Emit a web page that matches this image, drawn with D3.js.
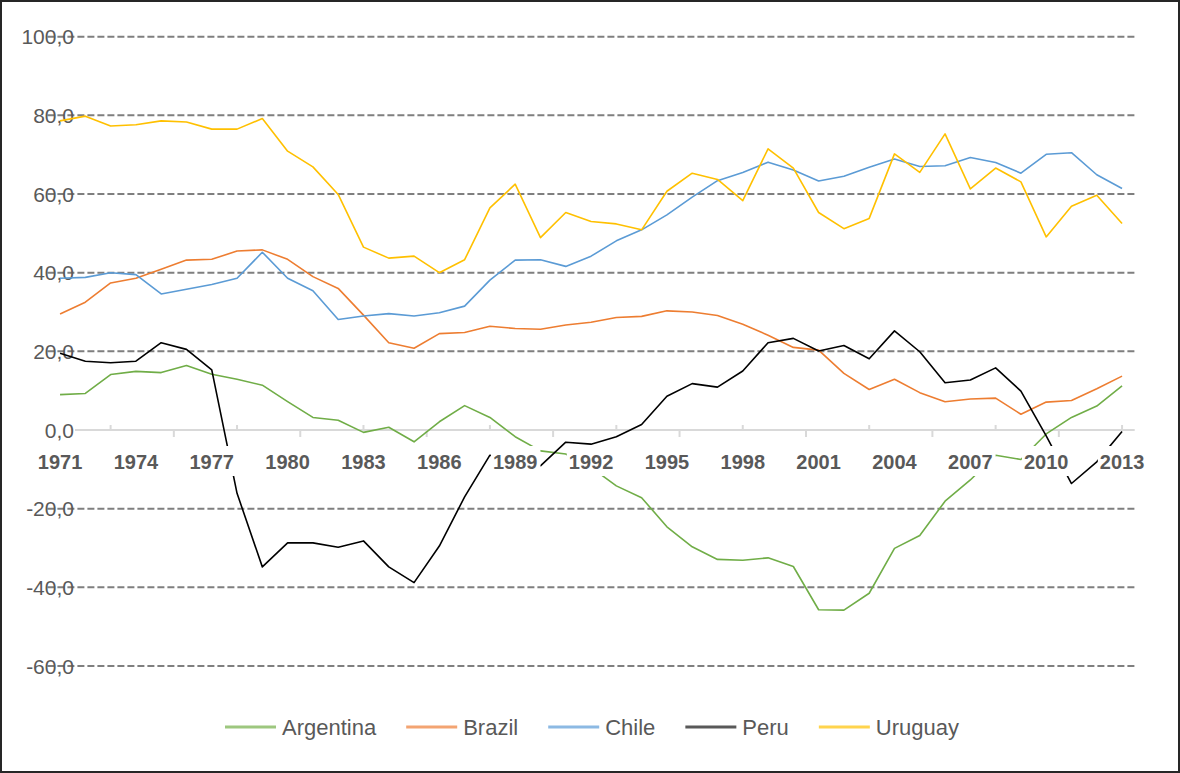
<!DOCTYPE html>
<html>
<head>
<meta charset="utf-8">
<script src="https://cdn.jsdelivr.net/npm/d3@7"></script>
<style>
  body { margin: 0; background: #fff; }
  text { font-family: "Liberation Sans", Arial, sans-serif; fill: #595959; }
</style>
</head>
<body>
<script>
var years = [1971, 1972, 1973, 1974, 1975, 1976, 1977, 1978, 1979, 1980, 1981, 1982, 1983, 1984, 1985,
             1986, 1987, 1988, 1989, 1990, 1991, 1992, 1993, 1994, 1995, 1996, 1997, 1998, 1999, 2000,
             2001, 2002, 2003, 2004, 2005, 2006, 2007, 2008, 2009, 2010, 2011, 2012, 2013];

var argentina = [9.0, 9.3, 14.1, 14.9, 14.6, 16.4, 14.2, 12.9, 11.4, 7.2, 3.2, 2.5, -0.6, 0.7, -3.0,
                 2.1, 6.2, 3.2, -1.7, -5.3, -6.1, -9.5, -14.2, -17.2, -24.6, -29.7, -32.9, -33.1, -32.5, -34.7,
                 -45.7, -45.8, -41.5, -30.1, -26.8, -18.1, -12.7, -6.4, -7.5, -1.0, 3.2, 6.1, 11.2];
var brazil = [29.5, 32.5, 37.4, 38.6, 40.9, 43.2, 43.4, 45.5, 45.8, 43.4, 39.0, 36.0, 29.2, 22.2, 20.8,
              24.5, 24.8, 26.4, 25.8, 25.6, 26.7, 27.4, 28.6, 28.9, 30.3, 30.0, 29.1, 26.9, 24.1, 21.0,
              20.3, 14.4, 10.3, 12.9, 9.5, 7.2, 7.9, 8.1, 4.0, 7.1, 7.5, 10.5, 13.7];
var chile = [38.6, 38.8, 40.0, 39.5, 34.6, 35.8, 37.0, 38.6, 45.2, 38.6, 35.4, 28.1, 29.0, 29.6, 29.0,
             29.8, 31.5, 38.1, 43.2, 43.3, 41.6, 44.2, 48.1, 50.9, 54.7, 59.2, 63.4, 65.5, 68.1, 66.1,
             63.3, 64.5, 66.8, 68.9, 67.0, 67.2, 69.3, 68.0, 65.3, 70.1, 70.5, 64.9, 61.4];
var peru = [19.5, 17.5, 17.1, 17.5, 22.2, 20.5, 15.3, -16.1, -34.8, -28.7, -28.7, -29.8, -28.2, -34.8, -38.8,
            -29.5, -17.0, -6.4, -8.0, -9.1, -3.1, -3.6, -1.7, 1.4, 8.6, 11.8, 10.9, 15.0, 22.2, 23.3,
            20.1, 21.5, 18.1, 25.2, 19.9, 12.0, 12.7, 15.8, 9.9, -1.5, -13.6, -8.1, -0.4];
var uruguay = [78.6, 79.8, 77.3, 77.6, 78.6, 78.3, 76.5, 76.5, 79.2, 70.9, 66.9, 59.9, 46.5, 43.7, 44.2,
               40.0, 43.3, 56.5, 62.5, 48.9, 55.3, 53.0, 52.4, 50.9, 60.7, 65.3, 63.7, 58.3, 71.5, 66.6,
               55.3, 51.2, 53.8, 70.2, 65.5, 75.3, 61.3, 66.6, 63.1, 49.1, 56.9, 59.7, 52.5];

var seriesNames = ['Argentina', 'Brazil', 'Chile', 'Peru', 'Uruguay'];
var seriesValues = [argentina, brazil, chile, peru, uruguay];
var seriesColors = ['#70ad47', '#ed7d31', '#5b9bd5', '#000000', '#ffc000'];
var legendColors = ['#9dc77f', '#f3a472', '#8cb9e3', '#595959', '#ffd44d'];

var yTicks = [-60, -40, -20, 0, 20, 40, 60, 80, 100];
var xLabelYears = [1971, 1974, 1977, 1980, 1983, 1986, 1989, 1992, 1995, 1998, 2001, 2004, 2007, 2010, 2013];

var width = 1180, height = 773;

var svg = d3.select('body').append('svg')
            .attr('width', width)
            .attr('height', height);

svg.append('rect')
   .attr('x', 1).attr('y', 1)
   .attr('width', width - 2).attr('height', height - 2)
   .attr('fill', '#fff')
   .attr('stroke', '#262626')
   .attr('stroke-width', 2);

var x = d3.scaleBand().domain(years).range([47.4, 1134.7]);
var cx = function(yr) { return x(yr) + x.bandwidth() / 2; };
var y = d3.scaleLinear().domain([-60, 100]).range([666, 36.7]);

var locale = d3.formatLocale({ decimal: ',', thousands: '.', grouping: [3], currency: ['', ''], minus: '-' });
var fmt = locale.format('.1f');

// gridlines
svg.append('g').selectAll('line')
   .data(yTicks.filter(function(d) { return d !== 0; }))
   .enter().append('line')
   .attr('x1', 47.4).attr('x2', 1134.7)
   .attr('y1', function(d) { return y(d); })
   .attr('y2', function(d) { return y(d); })
   .attr('stroke', '#7f7f7f')
   .attr('stroke-width', 2)
   .attr('stroke-dasharray', '7,3');

// zero axis with its odd tick marks
svg.append('line')
   .attr('x1', 75).attr('x2', 1134.7)
   .attr('y1', y(0)).attr('y2', y(0))
   .attr('stroke', '#d9d9d9')
   .attr('stroke-width', 2);

var upTicks = years.filter(function(d, i) { return i % 5 === 2; });
var downTicks = years.filter(function(d, i) { return i > 0 && i % 5 === 0; });

svg.append('g').selectAll('line').data(upTicks).enter().append('line')
   .attr('x1', cx).attr('x2', cx)
   .attr('y1', y(0) - 5).attr('y2', y(0))
   .attr('stroke', '#d9d9d9').attr('stroke-width', 2);

svg.append('g').selectAll('line').data(downTicks).enter().append('line')
   .attr('x1', function(d) { return x(d); }).attr('x2', function(d) { return x(d); })
   .attr('y1', y(0)).attr('y2', y(0) + 7)
   .attr('stroke', '#d9d9d9').attr('stroke-width', 2);

// y labels
svg.append('g').selectAll('text').data(yTicks).enter().append('text')
   .attr('x', 74)
   .attr('y', function(d) { return y(d) + 7.5; })
   .attr('text-anchor', 'end')
   .style('font-size', '21px')
   .text(function(d) { return fmt(d); });

// series lines
var line = d3.line()
             .x(function(d, i) { return cx(years[i]); })
             .y(function(d) { return y(d); });

svg.append('g').selectAll('path').data(seriesValues).enter().append('path')
   .attr('d', line)
   .attr('fill', 'none')
   .attr('stroke', function(d, i) { return seriesColors[i]; })
   .attr('stroke-width', 1.6)
   .attr('stroke-linejoin', 'round');

// x labels on white boxes (they hide the lines behind them)
var xLab = svg.append('g').selectAll('g').data(xLabelYears).enter().append('g');
var xText = xLab.append('text')
   .attr('x', cx)
   .attr('y', 469)
   .attr('text-anchor', 'middle')
   .style('font-size', '20px')
   .style('font-weight', 'bold')
   .text(function(d) { return d; });

xLab.insert('rect', 'text')
   .attr('x', function(d, i) { return xText.nodes()[i].getBBox().x - 2; })
   .attr('width', function(d, i) { return xText.nodes()[i].getBBox().width + 5; })
   .attr('y', 446)
   .attr('height', 30)
   .attr('fill', '#fff');

// legend
var legend = svg.append('g');
var lineLen = 51, textGap = 6, itemGap = 30;
var items = legend.selectAll('g').data(seriesNames).enter().append('g');
items.append('line')
     .attr('x1', 0).attr('x2', lineLen)
     .attr('y1', 727).attr('y2', 727)
     .attr('stroke', function(d, i) { return legendColors[i]; })
     .attr('stroke-width', 3);
items.append('text')
     .attr('x', lineLen + textGap)
     .attr('y', 735)
     .style('font-size', '22px')
     .text(function(d) { return d; });

var offsets = [];
var total = 0;
items.each(function() {
  var w = d3.select(this).select('text').node().getComputedTextLength();
  offsets.push(total);
  total += lineLen + textGap + w + itemGap;
});
total -= itemGap;
var startX = 592 - total / 2;
items.attr('transform', function(d, i) { return 'translate(' + (startX + offsets[i]) + ',0)'; });
</script>
</body>
</html>
